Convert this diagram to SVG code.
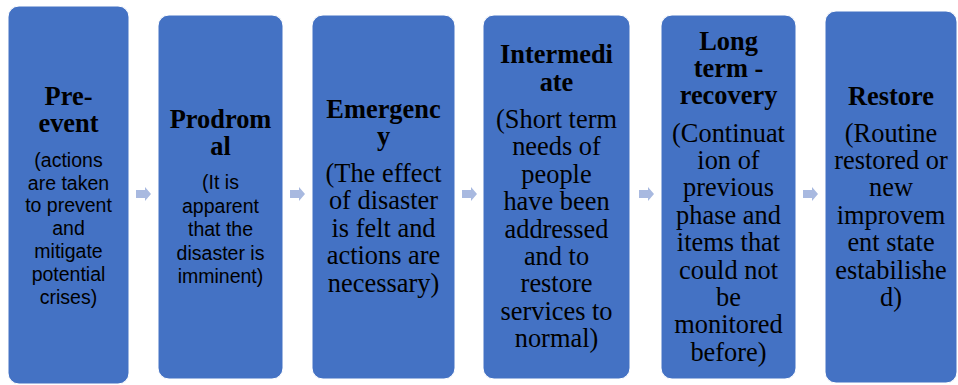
<svg xmlns="http://www.w3.org/2000/svg" width="958" height="385" viewBox="0 0 958 385">
  <style>
    .box { fill: #4472C4; stroke: #ffffff; stroke-width: 1; }
    .title { font-family: "Liberation Serif", "Times New Roman", serif; font-weight: bold; font-size: 26.4px; fill: #000000; text-anchor: middle; }
    .body-serif { font-family: "Liberation Serif", "Times New Roman", serif; font-size: 26.4px; fill: #000000; text-anchor: middle; }
    .body-sans { font-family: "Liberation Sans", Arial, sans-serif; font-size: 19.5px; fill: #000000; text-anchor: middle; }
    .arrow { fill: #A8B9E0; }
  </style>
  <defs>
    <!-- small right-pointing block arrow, origin at its left/centre -->
    <path id="step-arrow" d="M0,-4 H9 V-7 L15,0 L9,7 V4 H0 Z"/>
  </defs>

  <rect width="958" height="385" fill="#ffffff"/>

  <g id="connectors">
    <use href="#step-arrow" class="arrow" x="136" y="194"/>
    <use href="#step-arrow" class="arrow" x="290" y="194"/>
    <use href="#step-arrow" class="arrow" x="462" y="194"/>
    <use href="#step-arrow" class="arrow" x="639" y="194"/>
    <use href="#step-arrow" class="arrow" x="803" y="194"/>
  </g>

  <g id="pre-event">
    <rect class="box" x="8" y="6" width="121" height="378" rx="11"/>
    <text class="title" x="68.5" y="105">Pre-</text>
    <text class="title" x="68.5" y="132">event</text>
    <text class="body-sans" x="68.5" y="167">(actions</text>
    <text class="body-sans" x="68.5" y="189.5">are taken</text>
    <text class="body-sans" x="68.5" y="212">to prevent</text>
    <text class="body-sans" x="68.5" y="235">and</text>
    <text class="body-sans" x="68.5" y="258">mitigate</text>
    <text class="body-sans" x="68.5" y="281">potential</text>
    <text class="body-sans" x="68.5" y="304">crises)</text>
  </g>

  <g id="prodromal">
    <rect class="box" x="158" y="15" width="125" height="364" rx="11"/>
    <text class="title" x="220.5" y="128">Prodrom</text>
    <text class="title" x="220.5" y="155">al</text>
    <text class="body-sans" x="220.5" y="189">(It is</text>
    <text class="body-sans" x="220.5" y="212.5">apparent</text>
    <text class="body-sans" x="220.5" y="236">that the</text>
    <text class="body-sans" x="220.5" y="259.5">disaster is</text>
    <text class="body-sans" x="220.5" y="283">imminent)</text>
  </g>

  <g id="emergency">
    <rect class="box" x="312" y="15" width="143" height="364" rx="11"/>
    <text class="title" x="383.5" y="118">Emergenc</text>
    <text class="title" x="383.5" y="145">y</text>
    <text class="body-serif" x="383.5" y="182">(The effect</text>
    <text class="body-serif" x="383.5" y="209.4">of disaster</text>
    <text class="body-serif" x="383.5" y="236.8">is felt and</text>
    <text class="body-serif" x="383.5" y="264.2">actions are</text>
    <text class="body-serif" x="383.5" y="291.6">necessary)</text>
  </g>

  <g id="intermediate">
    <rect class="box" x="483" y="15" width="147" height="364" rx="11"/>
    <text class="title" x="556.5" y="63">Intermedi</text>
    <text class="title" x="556.5" y="91">ate</text>
    <text class="body-serif" x="556.5" y="128">(Short term</text>
    <text class="body-serif" x="556.5" y="155.4">needs of</text>
    <text class="body-serif" x="556.5" y="182.8">people</text>
    <text class="body-serif" x="556.5" y="210.2">have been</text>
    <text class="body-serif" x="556.5" y="237.6">addressed</text>
    <text class="body-serif" x="556.5" y="265">and to</text>
    <text class="body-serif" x="556.5" y="292.4">restore</text>
    <text class="body-serif" x="556.5" y="319.8">services to</text>
    <text class="body-serif" x="556.5" y="347.2">normal)</text>
  </g>

  <g id="long-term-recovery">
    <rect class="box" x="661" y="15" width="135" height="364" rx="11"/>
    <text class="title" x="728.5" y="50">Long</text>
    <text class="title" x="728.5" y="77">term -</text>
    <text class="title" x="728.5" y="104">recovery</text>
    <text class="body-serif" x="728.5" y="141.5">(Continuat</text>
    <text class="body-serif" x="728.5" y="168.9">ion of</text>
    <text class="body-serif" x="728.5" y="196.3">previous</text>
    <text class="body-serif" x="728.5" y="223.7">phase and</text>
    <text class="body-serif" x="728.5" y="251.1">items that</text>
    <text class="body-serif" x="728.5" y="278.5">could not</text>
    <text class="body-serif" x="728.5" y="305.9">be</text>
    <text class="body-serif" x="728.5" y="333.3">monitored</text>
    <text class="body-serif" x="728.5" y="360.7">before)</text>
  </g>

  <g id="restore">
    <rect class="box" x="825" y="11" width="132" height="372" rx="11"/>
    <text class="title" x="891" y="105">Restore</text>
    <text class="body-serif" x="891" y="141.5">(Routine</text>
    <text class="body-serif" x="891" y="168.9">restored or</text>
    <text class="body-serif" x="891" y="196.3">new</text>
    <text class="body-serif" x="891" y="223.7">improvem</text>
    <text class="body-serif" x="891" y="251.1">ent state</text>
    <text class="body-serif" x="891" y="278.5">estabilishe</text>
    <text class="body-serif" x="891" y="305.9">d)</text>
  </g>
</svg>
